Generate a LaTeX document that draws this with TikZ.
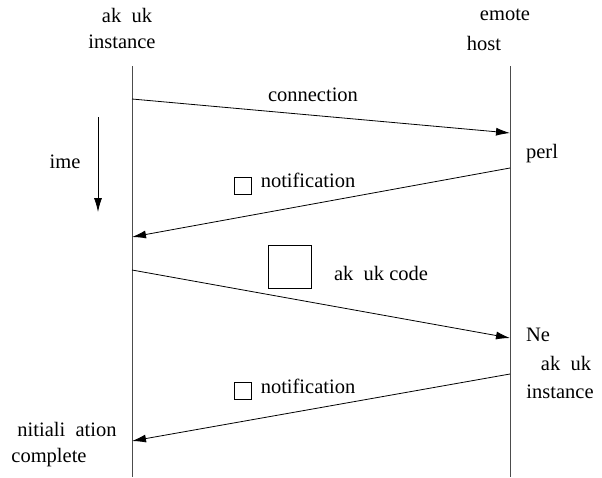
\documentclass[tikz,border=0pt]{standalone}
\usepackage{fontspec}
\setmainfont{Liberation Serif}
\usetikzlibrary{arrows.meta}
\tikzset{% 
    lbl/.style={inner sep=0pt,font=\rmfamily\fontsize{20.5}{24}\selectfont},
    life/.style={line width=1pt,black!70},
    msg/.style={line width=0.8pt,-{Latex[length=14pt,width=8pt]}},
    tickbox/.style={draw,line width=0.8pt,minimum size=16.5pt,inner sep=0pt}
}

\begin{document}
\begin{tikzpicture}[x=1pt,y=-1pt]
        \useasboundingbox (0,0) rectangle (602,477);
        % lifelines
        \coordinate (l0) at (132,66);
        \coordinate (l1) at (132,477);
        \coordinate (r0) at (510,66);
        \coordinate (r1) at (510,477);
        \draw[life] (l0) -- (l1);
        \draw[life] (r0) -- (r1);
        \node[lbl] (lt1) at (127,15){ak\hspace{0.5em}uk};
        \node[lbl] (lt2) at (122,42){instance};
        \node[lbl] (rt1) at (505,15){emote};
        \node[lbl] (rt2) at (484,43){host};
        % time
        \coordinate (t0) at (98,117);
        \coordinate (t1) at (98,212);
        \draw[msg] (t0) -- (t1);
        \node[lbl] (tm) at (65,162){ime};
        % messages
        \coordinate (m1a) at (132,99);
        \coordinate (m1b) at (510,133);
        \draw[msg] (m1a) -- (m1b);
        \node[lbl] (conn) at (313,95){connection};
        \node[lbl] (perl) at (542,154){perl};
        \coordinate (m2a) at (510,168);
        \coordinate (m2b) at (132,237);
        \draw[msg] (m2a) -- (m2b);
        \node[tickbox] (nb1) at (243,186){};
        \node[lbl] (nt1) at (308,180){notification};
        \coordinate (m3a) at (132,270);
        \coordinate (m3b) at (510,338);
        \draw[msg] (m3a) -- (m3b);
        \node[tickbox,minimum size=43pt] (code) at (290,267){};
        \node[lbl] (ct) at (381,273){ak\hspace{0.5em}uk code};
        \node[lbl] (nw1) at (538,335){Ne};
        \node[lbl] (nw2) at (566,363){ak\hspace{0.5em}uk};
        \node[lbl] (nw3) at (560,392){instance};
        \coordinate (m4a) at (510,374);
        \coordinate (m4b) at (132,441);
        \draw[msg] (m4a) -- (m4b);
        \node[tickbox] (nb2) at (243,391){};
        \node[lbl] (nt2) at (308,386){notification};
        \node[lbl] (in1) at (67,429){nitiali\hspace{0.5em}ation};
        \node[lbl] (in2) at (49,458){complete};
    \end{tikzpicture}
\end{document}
